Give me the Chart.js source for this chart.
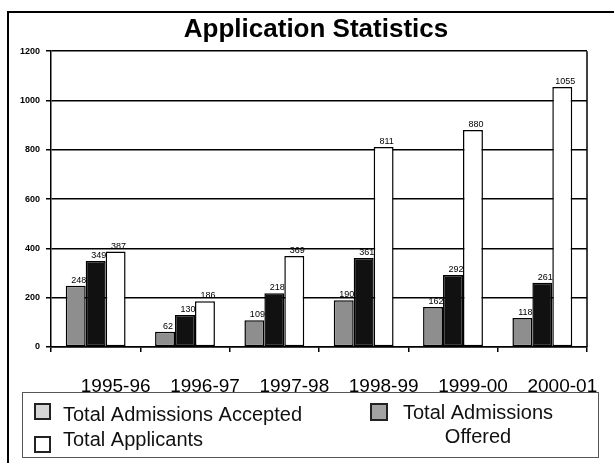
<!DOCTYPE html>
<html>
<head>
<meta charset="utf-8">
<script src="https://cdn.jsdelivr.net/npm/chart.js@4/dist/chart.umd.min.js"></script>
<style>
  html,body{margin:0;padding:0;background:#fff;}
  #c{display:block;}
</style>
</head>
<body>
<canvas id="c" width="614" height="463"></canvas>
<script>
const categories = ['1995-96','1996-97','1997-98','1998-99','1999-00','2000-01'];
const seriesNames = ['Total Admissions Accepted','Total Admissions Offered','Total Applicants'];
const accepted   = [248, 62, 109, 190, 162, 118];
const offered    = [349, 130, 218, 361, 292, 261];
const applicants = [387, 186, 369, 811, 880, 1055];
const yTickValues = [0, 200, 400, 600, 800, 1000, 1200];

const barColors    = ['#8e8e8e', '#111111', '#ffffff'];
const legendColors = ['#d6d6d6', '#a3a3a3', '#ffffff'];

const FONT = 'Arial, "Liberation Sans", sans-serif';

const titleShift = {
  id: 'titleShift',
  afterLayout(chart) {
    const tb = chart.titleBlock;
    if (!tb) return;
    const shift = 316 - (tb.left + tb.right) / 2;
    tb.left += shift; tb.right += shift;
  }
};

const valueLabels = {
  id: 'valueLabels',
  afterDatasetsDraw(chart) {
    const ctx = chart.ctx;
    ctx.save();
    ctx.font = '9px ' + FONT;
    ctx.fillStyle = '#000';
    ctx.textAlign = 'center';
    ctx.textBaseline = 'bottom';
    chart.data.datasets.forEach((ds, i) => {
      const meta = chart.getDatasetMeta(i);
      meta.data.forEach((bar, j) => {
        ctx.fillText(String(ds.data[j]), bar.x + 3, bar.y - 1);
      });
    });
    ctx.restore();
  }
};

const frame = {
  id: 'frame',
  beforeDatasetsDraw(chart) {
    const a = chart.chartArea, ctx = chart.ctx;
    ctx.save();
    ctx.strokeStyle = '#000';
    ctx.lineWidth = 1.5;
    ctx.beginPath();
    ctx.moveTo(a.right, a.top);
    ctx.lineTo(a.right, a.bottom);
    ctx.stroke();
    ctx.restore();
  },
  afterDraw(chart) {
    const ctx = chart.ctx;
    ctx.save();
    // outer frame (left and top)
    ctx.strokeStyle = '#000';
    ctx.lineWidth = 2;
    ctx.beginPath();
    ctx.moveTo(8, 463);
    ctx.lineTo(8, 12);
    ctx.lineTo(614, 12);
    ctx.stroke();

    // legend
    ctx.strokeStyle = '#555';
    ctx.lineWidth = 1;
    ctx.strokeRect(22.5, 392.5, 576, 65);

    const items = [
      {box: [35, 404, 15, 15], lines: [seriesNames[0]], x: 63, y: [421], align: 'left'},
      {box: [371, 404, 16, 16], lines: ['Total Admissions', 'Offered'], x: 478, y: [419, 443], align: 'center'},
      {box: [35, 437, 15, 15], lines: [seriesNames[2]], x: 63, y: [446], align: 'left'}
    ];
    ctx.font = '20px ' + FONT;
    ctx.textBaseline = 'alphabetic';
    items.forEach((it, i) => {
      ctx.fillStyle = legendColors[i];
      ctx.fillRect(it.box[0], it.box[1], it.box[2], it.box[3]);
      ctx.strokeStyle = '#222';
      ctx.lineWidth = 2;
      ctx.strokeRect(it.box[0], it.box[1], it.box[2], it.box[3]);
      ctx.fillStyle = '#111';
      ctx.textAlign = it.align;
      it.lines.forEach((t, k) => ctx.fillText(t, it.x, it.y[k]));
    });
    ctx.restore();
  }
};

const datasets = [accepted, offered, applicants].map((d, i) => ({
  label: seriesNames[i],
  data: d,
  backgroundColor: barColors[i],
  borderColor: '#000',
  borderWidth: 1.5,
  borderSkipped: false,
  categoryPercentage: 0.67,
  barPercentage: 1.0
}));

new Chart(document.getElementById('c'), {
  type: 'bar',
  data: { labels: categories, datasets },
  plugins: [titleShift, valueLabels, frame],
  options: {
    responsive: false,
    animation: false,
    devicePixelRatio: 1,
    layout: { padding: { left: 0, right: 27, top: 0, bottom: 0 } },
    plugins: {
      legend: { display: false },
      tooltip: { enabled: false },
      title: {
        display: true,
        text: 'Application Statistics',
        color: '#000',
        font: { family: FONT, size: 26, weight: 'bold' },
        padding: { top: 14, bottom: 6 }
      }
    },
    scales: {
      x: {
        offset: true,
        grid: { display: true, drawOnChartArea: false, tickLength: 5, color: '#000', lineWidth: 1.5 },
        border: { color: '#000', width: 1.5 },
        ticks: {
          color: '#000',
          font: { family: FONT, size: 19 },
          padding: 23,
          labelOffset: 20,
          maxRotation: 0,
          autoSkip: false
        },
        afterFit(s) { s.height = 116; }
      },
      y: {
        min: 0,
        max: 1200,
        afterBuildTicks(s) { s.ticks = yTickValues.map(v => ({ value: v })); },
        grid: { color: '#000', lineWidth: 1.5, tickLength: 5 },
        border: { color: '#000', width: 1.5 },
        ticks: {
          color: '#000',
          font: { family: FONT, size: 9, weight: 'bold' },
          padding: 6,
          callback: v => String(v)
        },
        afterFit(s) { s.width = 51; }
      }
    }
  }
});
</script>
</body>
</html>
